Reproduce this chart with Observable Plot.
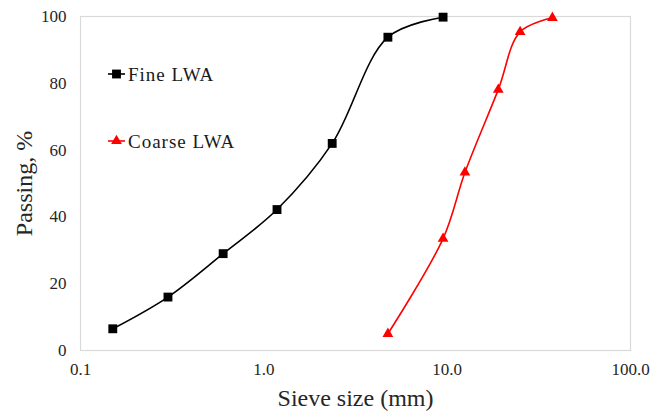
<!DOCTYPE html>
<html>
<head>
<meta charset="utf-8">
<script src="https://cdn.jsdelivr.net/npm/d3@7"></script>
<script src="https://cdn.jsdelivr.net/npm/@observablehq/plot@0.6"></script>
<style>
  html, body { margin: 0; padding: 0; background: #fff; }
  #wrap { position: relative; width: 664px; height: 412px; }
  #wrap svg, #wrap svg text { font-family: 'Liberation Serif', 'Times New Roman', serif !important; }
  #legend { position: absolute; left: 0; top: 0; pointer-events: none; }
</style>
</head>
<body>
<div id="wrap"></div>
<script>
// Data
const fineSizes = [0.15, 0.3, 0.6, 1.18, 2.36, 4.75, 9.5];
const finePassing = [6.5, 16, 29, 42.2, 62, 93.8, 99.8];
const coarseSizes = [4.75, 9.5, 12.5, 19, 25, 37.5];
const coarsePassing = [5, 33.5, 53.3, 78.1, 95.4, 99.6];
const xTicks = [0.1, 1, 10, 100];
const yTicks = [0, 20, 40, 60, 80, 100];
const seriesNames = ["Fine LWA", "Coarse LWA"];

const fine = fineSizes.map((x, i) => ({x, y: finePassing[i]}));
const coarse = coarseSizes.map((x, i) => ({x, y: coarsePassing[i]}));

const FONT = "'Liberation Serif', 'Times New Roman', serif";

const chart = Plot.plot({
  width: 664,
  height: 412,
  marginLeft: 80,
  marginRight: 34,
  marginTop: 16,
  marginBottom: 62,
  style: {fontFamily: FONT, fontSize: "17px", color: "#262626", background: "#fff"},
  x: {type: "log", domain: [0.1, 100], ticks: xTicks, tickFormat: d => d.toFixed(1), tickSize: 0, tickPadding: 12, label: null},
  y: {domain: [0, 100], ticks: yTicks, tickSize: 0, tickPadding: 14, label: null},
  marks: [
    Plot.frame({stroke: "#d9d9d9", strokeWidth: 1.2}),
    Plot.line(fine, {x: "x", y: "y", curve: "catmull-rom", stroke: "#000", strokeWidth: 1.6}),
    Plot.dot(fine, {x: "x", y: "y", symbol: "square", fill: "#000", r: 5}),
    Plot.line(coarse, {x: "x", y: "y", curve: "catmull-rom", stroke: "#ff0000", strokeWidth: 1.6}),
    Plot.dot(coarse, {x: "x", y: "y", symbol: "triangle", fill: "#ff0000", r: 4}),
    Plot.text(["Passing, %"], {frameAnchor: "left", textAnchor: "middle", lineAnchor: "middle", dx: -56, rotate: -90, fontSize: 24, fill: "#262626", text: d => d}),
    Plot.text(["Sieve size (mm)"], {frameAnchor: "bottom", textAnchor: "middle", lineAnchor: "middle", dy: 48, fontSize: 24, fill: "#262626", text: d => d})
  ]
});

const wrap = document.getElementById("wrap");
wrap.appendChild(chart);

// Legend overlay
const legend = d3.select(wrap).append("svg")
  .attr("id", "legend").attr("width", 664).attr("height", 412);
const legendItems = [
  {name: seriesNames[0], color: "#000", symbol: d3.symbolSquare, size: Math.PI * 25, y: 74},
  {name: seriesNames[1], color: "#ff0000", symbol: d3.symbolTriangle, size: Math.PI * 16, y: 141}
];
for (const it of legendItems) {
  const g = legend.append("g");
  g.append("line").attr("x1", 108).attr("x2", 125).attr("y1", it.y).attr("y2", it.y)
    .attr("stroke", it.color).attr("stroke-width", 1.6);
  g.append("path").attr("d", d3.symbol(it.symbol, it.size)())
    .attr("transform", `translate(116.5,${it.y})`).attr("fill", it.color);
  g.append("text").attr("x", 128).attr("y", it.y).attr("dy", "0.35em")
    .attr("font-size", 19).attr("letter-spacing", "1px").attr("fill", "#1a1a1a")
    .text(it.name);
}
</script>
</body>
</html>
